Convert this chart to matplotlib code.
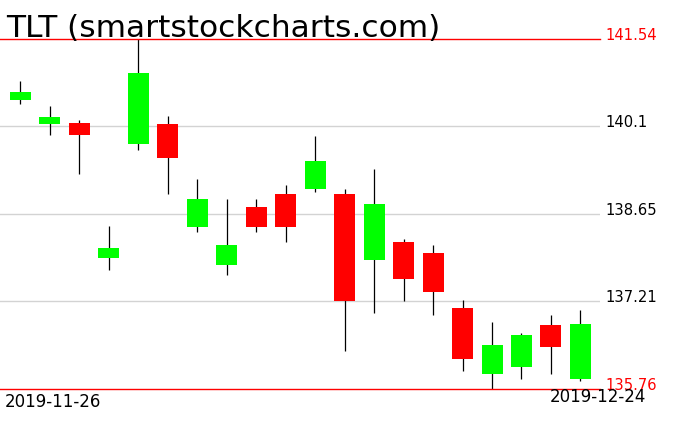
import matplotlib
matplotlib.use("Agg")
import matplotlib.pyplot as plt
from matplotlib.transforms import blended_transform_factory

# ---- data ----
dates = ["2019-11-26", "2019-11-27", "2019-11-29", "2019-12-02", "2019-12-03",
         "2019-12-04", "2019-12-05", "2019-12-06", "2019-12-09", "2019-12-10",
         "2019-12-11", "2019-12-12", "2019-12-13", "2019-12-16", "2019-12-17",
         "2019-12-18", "2019-12-19", "2019-12-20", "2019-12-23", "2019-12-24"]
opens  = [140.53, 140.13, 140.16, 137.92, 139.80, 140.13, 138.43, 137.80, 138.77, 138.98,
          139.07, 138.98, 137.89, 138.18, 138.00, 137.09, 136.00, 136.12, 136.82, 135.92]
closes = [140.67, 140.26, 139.95, 138.09, 140.98, 139.57, 138.90, 138.13, 138.43, 138.43,
          139.53, 137.22, 138.82, 137.57, 137.37, 136.25, 136.48, 136.66, 136.45, 136.84]
highs  = [140.84, 140.44, 140.21, 138.45, 141.54, 140.27, 139.22, 138.90, 138.89, 139.13,
          139.93, 139.07, 139.40, 138.24, 138.13, 137.23, 136.87, 136.69, 136.98, 137.07]
lows   = [140.46, 139.95, 139.31, 137.72, 139.70, 138.98, 138.36, 137.64, 138.35, 138.18,
          139.01, 136.38, 137.01, 137.22, 136.99, 136.05, 135.76, 135.92, 136.00, 135.89]
grid_levels = [140.1, 138.65, 137.21]
grid_labels = ["140.1", "138.65", "137.21"]
title = "TLT (smartstockcharts.com)"

W, H = 676, 431
fig = plt.figure(figsize=(W / 100, H / 100), dpi=100)
fig.patch.set_facecolor("white")

ax_left, ax_right = 0, 600
ax_top, ax_bottom = 40, 390
ax = fig.add_axes([ax_left / W, (H - ax_bottom) / H,
                   (ax_right - ax_left) / W, (ax_bottom - ax_top) / H])
ax.set_axis_off()

hi_val = max(highs)
lo_val = min(lows)
ax.set_ylim(lo_val, hi_val)
ax.set_xlim(-0.6956, 19.664)

green = "#00ff00"
red = "#ff0000"
body_w = 0.713

for i in range(len(dates)):
    o, c, h, l = opens[i], closes[i], highs[i], lows[i]
    col = green if c >= o else red
    ax.vlines(i, l, h, color="black", linewidth=0.9, zorder=2, clip_on=False)
    ax.bar(i, abs(c - o), bottom=min(o, c), width=body_w, color=col,
           edgecolor="none", linewidth=0, zorder=3, clip_on=False)

# grid lines
for lv in grid_levels:
    ax.axhline(lv, color="#d3d3d3", linewidth=1.0, zorder=1)
ax.axhline(hi_val, color=red, linewidth=1.0, zorder=4, clip_on=False)
ax.axhline(lo_val, color=red, linewidth=1.0, zorder=4, clip_on=False)

tr = blended_transform_factory(ax.transAxes, ax.transData)
lx = 605 / 600
fs_tick = 10.6
for lv, lb in zip(grid_levels, grid_labels):
    ax.text(lx, lv, lb, transform=tr, color="black", fontsize=fs_tick,
            va="baseline", ha="left", clip_on=False)
ax.text(lx, hi_val, f"{hi_val:.2f}", transform=tr, color=red, fontsize=fs_tick,
        va="baseline", ha="left", clip_on=False)
ax.text(lx, lo_val, f"{lo_val:.2f}", transform=tr, color=red, fontsize=fs_tick,
        va="baseline", ha="left", clip_on=False)

# title
fig.text(6 / W, (H - 37) / H, title, fontsize=22.5, color="black",
         va="baseline", ha="left")

# date labels
fig.text(5 / W, (H - 407) / H, dates[0], fontsize=12, color="black",
         va="baseline", ha="left")
fig.text(646 / W, (H - 402) / H, dates[-1], fontsize=12, color="black",
         va="baseline", ha="right")

fig.savefig("out.png", dpi=100, facecolor="white")
